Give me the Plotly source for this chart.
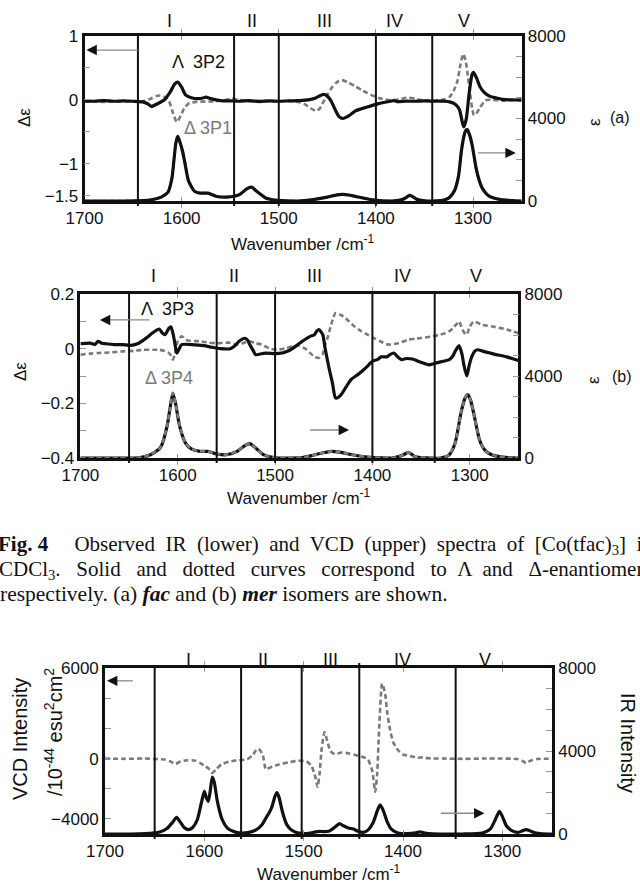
import plotly.graph_objects as go

# ---------------- DATA ----------------
# (a) fac : VCD (delta-epsilon) and IR (epsilon)
top_vcdL_wn = [1700,1690,1680,1670,1660,1650,1640,1635,1631,1625,1618,1612,1607,1604,1600,1596,1590,1583,1578,1575,1570,1560,1550,1540,1530,1520,1510,1500,1490,1480,1470,1462,1457,1454,1450,1446,1442,1438,1434,1428,1421,1409,1399,1392,1385,1382,1378,1370,1360,1350,1340,1330,1324,1318,1314,1311,1309.5,1307,1304,1301,1299.5,1296,1293,1288,1283,1276,1270,1260,1250]
top_vcdL = [-0.015,-0.02,-0.01,-0.02,-0.015,-0.02,-0.03,-0.06,-0.1,-0.06,0.0,0.12,0.25,0.28,0.2,0.08,0.035,0.02,0.03,0.045,0.02,-0.01,-0.015,-0.02,-0.01,-0.025,-0.015,-0.02,-0.015,-0.01,0.0,0.03,0.07,0.086,0.06,-0.02,-0.15,-0.26,-0.29,-0.25,-0.17,-0.11,-0.065,-0.04,-0.02,-0.01,-0.025,-0.02,-0.02,-0.015,-0.02,-0.02,-0.03,-0.07,-0.15,-0.35,-0.42,-0.3,0.1,0.4,0.43,0.33,0.21,0.11,0.06,0.03,0.01,0.0,0.0]
top_vcdD_wn = [1700,1690,1680,1670,1660,1650,1640,1632,1626,1622,1617,1613,1609,1605,1601,1597,1592,1585,1575,1565,1555,1548,1540,1530,1520,1510,1500,1490,1484,1478,1473,1467,1462,1458,1454,1450,1445,1440,1435,1428,1421,1415,1409,1402,1396,1390,1384,1377,1370,1366,1360,1354,1345,1335,1329,1324,1320,1316,1313,1310,1307.5,1306,1303,1301,1299,1296,1293,1289,1286,1280,1270,1260,1250]
top_vcdD = [-0.025,-0.02,-0.03,-0.025,-0.02,-0.025,-0.02,0.02,0.06,0.07,0.04,-0.02,-0.2,-0.345,-0.25,-0.12,-0.05,-0.03,-0.025,-0.02,0.0,0.02,0.0,-0.02,-0.015,-0.02,-0.02,-0.015,-0.02,-0.04,-0.07,-0.13,-0.17,-0.14,-0.03,0.086,0.2,0.28,0.31,0.27,0.21,0.16,0.11,0.06,0.025,0.005,-0.005,0.01,0.03,0.035,0.02,0.0,-0.01,-0.005,0.01,0.05,0.14,0.3,0.55,0.72,0.6,0.45,0.1,-0.12,-0.24,-0.2,-0.12,-0.04,0.0,0.0,-0.01,0.0,-0.01]
top_ir_wn = [1700,1660,1640,1631,1621,1614,1610,1608,1606,1604,1602,1599,1597,1593,1587,1581,1573,1564,1554,1545,1540,1533,1528,1523,1518,1514,1506,1501,1480,1466,1450,1440,1434,1428,1421,1404,1384,1375,1371,1365,1361,1358,1350,1341,1329,1324,1319,1315,1312,1310,1308,1306,1303.5,1301,1297,1294,1291,1287,1283,1276,1270,1260,1250]
top_ir = [0,0,20,60,190,430,1100,1940,2800,3140,2900,2400,1940,990,480,380,380,220,190,240,320,590,670,480,300,160,60,30,0,60,190,300,320,290,220,60,0,40,110,270,180,80,10,0,60,180,510,1200,2420,3000,3380,3460,3200,2740,1630,1050,670,390,220,110,60,20,0]

# (b) mer
mid_vcdL_wn = [1700,1690,1685,1682,1678,1674,1665,1657,1648,1640,1632,1625,1619,1616,1613,1609,1607,1604.5,1603,1601,1598.5,1596,1586,1573,1565,1556,1546,1540,1537,1531,1528,1526,1522,1520,1510,1500,1493,1488,1484,1478,1472,1464,1460,1457,1455,1451,1449,1447,1444,1441,1438,1435,1432,1427,1422,1415,1409,1404,1400,1395,1391,1385,1382,1378,1374,1370,1365,1359,1350,1342,1337,1332,1326,1321,1317,1315,1311,1308,1306,1303,1300.5,1298,1295,1292,1286,1280,1275,1262,1255,1250]
mid_vcdL = [0.018,0.02,0.015,0.027,0.02,0.018,0.015,0.015,0.012,0.02,0.04,0.06,0.072,0.058,0.051,0.075,0.08,0.05,0.02,-0.016,0.0,0.015,0.015,0.011,0.005,0.0,0.0,0.015,0.027,0.038,0.03,0.015,-0.01,-0.022,-0.016,-0.018,-0.016,-0.01,-0.004,0.011,0.027,0.045,0.05,0.065,0.07,0.051,0.01,-0.028,-0.08,-0.126,-0.18,-0.178,-0.168,-0.14,-0.113,-0.095,-0.077,-0.06,-0.046,-0.04,-0.03,-0.03,-0.022,-0.016,-0.03,-0.04,-0.036,-0.038,-0.05,-0.059,-0.055,-0.05,-0.045,-0.04,-0.025,-0.01,0.011,-0.02,-0.06,-0.1,-0.06,-0.03,-0.01,-0.004,-0.01,-0.015,-0.02,-0.03,-0.038,-0.043]
mid_vcdD_wn = [1700,1690,1682,1670,1657,1645,1636,1625,1619,1614,1610,1607,1605,1603,1600,1596,1590,1583,1577,1568,1560,1548,1539,1533,1527,1520,1514,1505,1497,1489,1482,1476,1469,1464,1459,1455,1451,1449,1446,1443,1440,1438,1434,1430,1424,1418,1412,1405,1398,1392,1384,1376,1370,1363,1356,1350,1338,1332,1325,1320,1317,1313,1311,1308.5,1306,1304,1302,1300,1296,1292,1288,1282,1275,1262,1250]
mid_vcdD = [-0.022,-0.018,-0.016,-0.014,-0.01,-0.008,-0.004,-0.004,-0.004,-0.008,-0.013,-0.025,-0.04,-0.02,0.027,0.045,0.03,0.028,0.027,0.022,0.02,0.022,0.015,0.02,0.027,0.02,0.015,0.0,-0.004,0.002,0.008,0.011,0.0,-0.016,-0.03,-0.034,-0.02,0.01,0.04,0.08,0.115,0.13,0.126,0.118,0.1,0.08,0.065,0.051,0.038,0.027,0.015,0.018,0.024,0.033,0.036,0.039,0.045,0.05,0.057,0.066,0.076,0.092,0.1,0.08,0.06,0.051,0.06,0.08,0.1,0.095,0.088,0.084,0.08,0.07,0.057]
mid_ir_wn = [1700,1660,1640,1628,1620,1617,1611,1608,1605,1602,1598,1592,1586,1577,1569,1560,1550,1539,1531,1526,1520,1512,1504,1497,1472,1462,1455,1442,1434,1426,1415,1405,1390,1380,1372,1368,1363,1359,1357,1345,1330,1321,1315,1309,1305,1302,1299,1296,1290,1286,1282,1276,1271,1260,1250]
mid_ir = [0,0,10,160,400,570,1540,2400,3170,2600,1540,730,440,325,320,195,160,325,600,700,490,160,40,0,20,120,210,325,290,210,110,50,10,0,80,160,275,160,80,10,0,160,730,2200,2900,3090,2800,2200,890,480,275,140,80,20,0]

# calculated spectra (bottom panel)
bot_vcd_wn = [1700,1680,1660,1650,1640,1634,1629,1624,1617,1610,1604,1600,1596,1592,1588,1583,1575,1565,1557,1551,1547,1544,1541,1538,1534,1525,1515,1505,1497,1492,1488,1486,1484,1482,1479,1476,1473,1469,1462,1455,1448,1440,1435,1431,1428,1426,1424,1421,1418,1416,1413,1410,1405,1400,1392,1385,1380,1375,1360,1340,1320,1300,1285,1280,1276,1272,1265,1250]
bot_vcd = [0,-20,0,-30,-60,-200,-346,-200,-110,-130,-300,-480,-650,-950,-700,-400,-200,-110,-50,250,640,560,200,-720,-600,-400,-250,-150,-200,-500,-1300,-1880,-1000,600,1750,1100,500,300,400,350,230,100,-100,-800,-2200,-1000,2000,4960,4300,3100,1900,1100,550,270,150,50,80,20,0,-20,0,0,-30,-150,-300,-150,-30,-20]
bot_ir_wn = [1700,1675,1660,1645,1638,1632,1628,1624,1620,1616,1612,1607,1603,1600,1598,1596,1594,1592,1590,1587,1582,1577,1571,1563,1555,1548,1542,1537,1535,1532,1529,1527,1525,1521,1517,1512,1505,1495,1488,1484,1480,1474,1468,1464,1460,1455,1450,1446,1440,1435,1430,1426,1423,1420,1416,1412,1405,1395,1387,1383,1378,1370,1340,1320,1312,1307,1303,1300,1296,1290,1284,1280,1276,1272,1266,1260,1250]
bot_ir = [0,0,20,100,250,560,800,560,300,210,300,700,1500,2050,1750,1570,2100,2740,2500,1600,690,300,130,40,80,200,450,850,1000,1300,1800,2000,1800,1000,450,180,40,30,100,130,110,140,350,500,400,290,240,150,80,200,550,1100,1400,1150,600,250,50,20,60,100,50,10,0,50,250,700,1090,850,400,150,80,150,210,150,40,10,0]

x_ticks = [1700, 1600, 1500, 1400, 1300]
top_left_ticks = [1, 0, -1, -1.5]
mid_left_ticks = [0.2, 0, -0.2, -0.4]
bot_left_ticks = [6000, 0, -4000]
ir_ticks = [0, 4000, 8000]
roman = ["I", "II", "III", "IV", "V"]
top_roman_x = [1613, 1528, 1453, 1381, 1309]
mid_roman_x = [1625, 1542, 1459, 1369, 1294]
bot_roman_x = [1616, 1541, 1473, 1401, 1317]
top_vlines = [1645, 1546, 1500, 1400, 1342]
mid_vlines = [1650, 1560, 1500, 1400, 1336]
bot_vlines = [1650, 1563, 1502, 1444, 1347]

# ---------------- FIGURE ----------------
W, H = 640, 883
FONT = "Liberation Sans, Arial, sans-serif"
SERIF = "Liberation Serif, Times New Roman, serif"
BLACK = "#111111"
GRAY = "#7a7a7a"

def px(x):
    return x / W

def py(y):
    return 1 - y / H

fig = go.Figure()

solid = dict(color=BLACK, width=3.2, shape="spline", smoothing=0.6)
dashed = dict(color=GRAY, width=2.6, dash="5px,3px", shape="spline", smoothing=0.6)

# top panel
fig.add_trace(go.Scatter(x=top_ir_wn, y=top_ir, xaxis="x", yaxis="y2", mode="lines", line=dashed))
fig.add_trace(go.Scatter(x=top_ir_wn, y=top_ir, xaxis="x", yaxis="y2", mode="lines", line=solid))
fig.add_trace(go.Scatter(x=top_vcdD_wn, y=top_vcdD, xaxis="x", yaxis="y", mode="lines", line=dashed))
fig.add_trace(go.Scatter(x=top_vcdL_wn, y=top_vcdL, xaxis="x", yaxis="y", mode="lines", line=solid))
# middle panel
fig.add_trace(go.Scatter(x=mid_ir_wn, y=mid_ir, xaxis="x2", yaxis="y4", mode="lines", line=solid))
fig.add_trace(go.Scatter(x=mid_ir_wn, y=mid_ir, xaxis="x2", yaxis="y4", mode="lines", line=dashed))
fig.add_trace(go.Scatter(x=mid_vcdD_wn, y=mid_vcdD, xaxis="x2", yaxis="y3", mode="lines", line=dashed))
fig.add_trace(go.Scatter(x=mid_vcdL_wn, y=mid_vcdL, xaxis="x2", yaxis="y3", mode="lines", line=solid))
# bottom panel
fig.add_trace(go.Scatter(x=bot_ir_wn, y=bot_ir, xaxis="x3", yaxis="y6", mode="lines", line=solid))
fig.add_trace(go.Scatter(x=bot_vcd_wn, y=bot_vcd, xaxis="x3", yaxis="y5", mode="lines", line=dashed))

tickfont = dict(family=FONT, size=17, color=BLACK)
TICKC = "#999"

def xax(dom, anchor):
    return dict(domain=dom, anchor=anchor, range=[1700, 1250], tickvals=x_ticks,
                ticks="inside", ticklen=4, tickcolor=TICKC, mirror="allticks",
                showline=True, linewidth=2.6, linecolor=BLACK, showgrid=False,
                zeroline=False, tickfont=tickfont, automargin=False)

def yleft(dom, anchor, rng, vals, mdt):
    return dict(domain=dom, anchor=anchor, range=rng, tickvals=vals,
                ticks="inside", ticklen=6, tickcolor=TICKC, showline=True,
                linewidth=2.6, linecolor=BLACK, showgrid=False, zeroline=False,
                tickfont=tickfont, automargin=False,
                minor=dict(tick0=0, dtick=mdt, ticks="inside", ticklen=6, tickcolor=TICKC, showgrid=False))

def yright(over, anchor):
    return dict(overlaying=over, anchor=anchor, side="right", range=[0, 8000],
                tickvals=ir_ticks, ticks="inside", ticklen=6,
                tickcolor=TICKC, showline=True, linewidth=2.6, linecolor=BLACK,
                showgrid=False, zeroline=False, tickfont=tickfont, automargin=False,
                minor=dict(tick0=0, dtick=1000, ticks="inside", ticklen=6, tickcolor=TICKC, showgrid=False))

dom_top_x = [px(84.5), px(521.6)]
dom_top_y = [py(201), py(36)]
dom_mid_x = [px(80.4), px(518.4)]
dom_mid_y = [py(458), py(294)]
dom_bot_x = [px(105), px(552)]
dom_bot_y = [py(834), py(668)]

fig.update_layout(
    width=W, height=H, margin=dict(l=0, r=0, t=0, b=0, autoexpand=False),
    paper_bgcolor="white", plot_bgcolor="white", showlegend=False,
    xaxis=xax(dom_top_x, "y"),
    yaxis=yleft(dom_top_y, "x", [-1.58, 1], top_left_ticks, 0.5),
    yaxis2=yright("y", "x"),
    xaxis2=xax(dom_mid_x, "y3"),
    yaxis3=yleft(dom_mid_y, "x2", [-0.4, 0.2], mid_left_ticks, 0.1),
    yaxis4=yright("y3", "x2"),
    xaxis3=xax(dom_bot_x, "y5"),
    yaxis5=yleft(dom_bot_y, "x3", [-5000, 6000], bot_left_ticks, 2000),
    yaxis6=yright("y5", "x3"),
)

shapes = []
for xr, yr, lines in [("x", "y", top_vlines), ("x2", "y3", mid_vlines), ("x3", "y5", bot_vlines)]:
    for v in lines:
        shapes.append(dict(type="line", xref=xr, yref=yr + " domain", x0=v, x1=v, y0=-0.03, y1=1,
                           line=dict(color=BLACK, width=2)))
# small mark above the bottom panel
shapes.append(dict(type="line", xref="x3", yref="y5 domain", x0=1444, x1=1444, y0=1, y1=1.03,
                   line=dict(color=BLACK, width=2)))

annotations = []

def text(x, y, t, xref="paper", yref="paper", size=17, color=BLACK, angle=0, family=FONT, xanchor="center"):
    annotations.append(dict(x=x, y=y, xref=xref, yref=yref, text=t, showarrow=False,
                            font=dict(family=family, size=size, color=color),
                            textangle=angle, xanchor=xanchor, yanchor="middle"))

def arrow(xr, yr, x_tail, x_head, yv):
    step = 6 if x_head > x_tail else -6
    shapes.append(dict(type="line", xref=xr, yref=yr, x0=x_tail, x1=x_head - step * 0.5, y0=yv, y1=yv,
                       line=dict(color="#8a8a8a", width=1.3)))
    annotations.append(dict(x=x_head, y=yv, xref=xr, yref=yr, ax=x_head - step, ay=yv,
                            axref=xr, ayref=yr, showarrow=True, arrowhead=2, arrowsize=1.6,
                            arrowwidth=1.3, arrowcolor=BLACK, text=""))

for rx, rn in zip(top_roman_x, roman):
    text(rx, py(21), rn, xref="x", size=18)
for rx, rn in zip(mid_roman_x, roman):
    text(rx, py(276), rn, xref="x2", size=18)
for rx, rn in zip(bot_roman_x, roman):
    text(rx, py(660), rn, xref="x3", size=18)

# top panel labels
text(1583, 0.59, "Λ  3P2", xref="x", yref="y", size=18)
text(1573, -0.44, "Δ 3P1", xref="x", yref="y", size=18, color=GRAY)
arrow("x", "y", 1645, 1698, 0.78)
arrow("x", "y2", 1295, 1256, 2333)
text(px(25), py(118), "Δε", size=17, angle=-90)
text(px(594), py(122), "ε", size=17, angle=-90)
text(px(620), py(118), "(a)", size=16)
text(0.5 * (dom_top_x[0] + dom_top_x[1]), py(243), "Wavenumber /cm<sup>-1</sup>", size=17)

# middle panel labels
text(1611, 0.145, "Λ  3P3", xref="x2", yref="y3", size=18)
text(1609, -0.108, "Δ 3P4", xref="x2", yref="y3", size=18, color=GRAY)
arrow("x2", "y3", 1629, 1680, 0.105)
arrow("x2", "y4", 1464, 1424, 1366)
text(px(20), py(372), "Δε", size=17, angle=-90)
text(px(594), py(380), "ε", size=17, angle=-90)
text(px(622), py(376), "(b)", size=16)
text(0.5 * (dom_mid_x[0] + dom_mid_x[1]), py(497), "Wavenumber /cm<sup>-1</sup>", size=17)

# caption
cap1 = "<b>Fig. 4</b>     Observed  IR  (lower)  and  VCD  (upper)  spectra  of  [Co(tfac)<sub>3</sub>]  in"
cap2 = "CDCl<sub>3</sub>.   Solid   and   dotted   curves   correspond   to  Λ  and   Δ-enantiomers,"
cap3 = "respectively. (a) <b><i>fac</i></b> and (b) <b><i>mer</i></b> isomers are shown."
text(px(-4), py(545), cap1, size=21, family=SERIF, xanchor="left")
text(px(-3), py(570), cap2, size=21, family=SERIF, xanchor="left")
text(px(-2), py(594), cap3, size=21.5, family=SERIF, xanchor="left")

# bottom panel labels
arrow("x3", "y5", 1672, 1698, 5150)
arrow("x3", "y6", 1362, 1318, 1000)
text(px(20), py(739), "VCD Intensity", size=20, angle=-90)
text(px(53), py(732), "/10<sup>-44</sup> esu<sup>2</sup>cm<sup>2</sup>", size=20, angle=-90)
text(px(628), py(743), "IR Intensity", size=20, angle=90)
text(0.5 * (dom_bot_x[0] + dom_bot_x[1]), py(873), "Wavenumber /cm<sup>-1</sup>", size=17)

fig.update_layout(shapes=shapes, annotations=annotations)
fig.write_html("out.html", config={"displayModeBar": False},
               post_script="document.body.style.margin='0';document.body.style.overflow='hidden';")
